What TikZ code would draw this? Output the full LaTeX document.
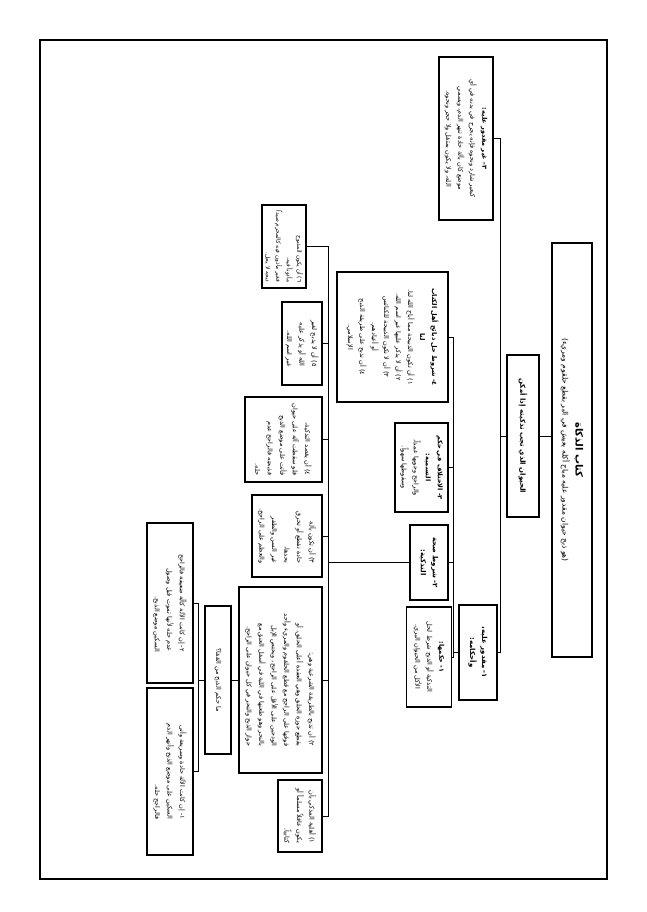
\documentclass[tikz,border=0pt]{standalone}
\usepackage{fontspec}
\usetikzlibrary{positioning}
\newfontfamily\arabicfont[Script=Arabic]{DejaVu Sans}
\TeXXeTstate=1
\newcommand{\ar}[1]{\beginR #1\endR}
\tikzset{
	>=stealth,
	pageframe/.style={draw, line width=1.2pt},
	titlebox/.style={rectangle, draw, line width=1.2pt, rotate=-90, inner sep=1pt, align=center, font=\arabicfont\fontsize{7.5}{13}\selectfont},
	headbox/.style={rectangle, draw, line width=1.2pt, rotate=-90, inner sep=1pt, align=center, font=\arabicfont\bfseries\fontsize{7}{12}\selectfont},
	notebox/.style={rectangle, draw, line width=1.2pt, rotate=-90, inner sep=1pt, align=center, font=\arabicfont\fontsize{6.5}{12}\selectfont},
	leafbox/.style={rectangle, draw, line width=1.2pt, rotate=-90, inner sep=1pt, align=right, font=\arabicfont\fontsize{6.5}{12.5}\selectfont},
	link/.style={draw, line width=1pt}
}

\begin{document}
\begin{tikzpicture}[x=1pt,y=-1pt]
	\useasboundingbox (0,0) rectangle (646,912);

	% --- Frame ---
	\draw[pageframe] (40,40) rectangle (607,879);

	% --- Nodes ---
	\node[titlebox, minimum width=414pt, minimum height=40pt] (book) at (572,450)
		{{\bfseries\fontsize{10}{13}\selectfont\ar{كتاب الذكاة}}\\\ar{(هو ذبح حيوان مقدور عليه مباح أكله يعيش في البر بقطع حلقوم ومريء)}};
	\node[headbox, minimum width=162pt, minimum height=32pt] (animal) at (523,436)
		{\ar{الحيوان الذي تجب تذكيته إذا أمكن}};

	\node[notebox, minimum width=163pt, minimum height=54pt] (wild) at (466,138.5)
		{{\bfseries\ar{٣- غير مقدور عليه:}}\\\ar{كبعير شارد ونحوه فإنه يجرح في بدنه في أي}\\\ar{موضع كان بآلة حادة تنهر الدم، ويسمي}\\\ar{الله، ولا يكون بمثقل ولا حجر ونحوه.}};
	\node[headbox, minimum width=95pt, minimum height=38pt] (tame) at (478,652.5)
		{\ar{١- مقدور عليه،}\\\ar{وأحكامه:}};

	\node[notebox, minimum width=100pt, minimum height=45pt] (ruling) at (429,657)
		{{\bfseries\ar{١- حكمها:}}\\\ar{التذكية أو الذبح شرط لحل}\\\ar{الأكل من الحيوان البري.}};
	\node[headbox, minimum width=75pt, minimum height=38pt] (conds) at (429,562.5)
		{\ar{٢- شروط صحة}\\\ar{التذكية:}};
	\node[notebox, minimum width=89pt, minimum height=53pt] (naming) at (421.5,467.5)
		{{\bfseries\ar{٣- الاختلاف في حكم}}\\{\bfseries\ar{التسمية:}}\\\ar{والراجح وجوبها عمداً،}\\\ar{وسقوطها سهواً.}};
	\node[notebox, minimum width=130pt, minimum height=111pt] (scripture) at (392.5,337)
		{{\bfseries\ar{٤- شروط حل ذبائح أهل الكتاب}}\\{\bfseries\ar{لنا}}\\\ar{١) أن تكون الذبيحة مما أباح الله لنا.}\\\ar{٢) أن لا يذكر عليها غير اسم الله.}\\\ar{٣) أن لا تكون الذبيحة للكنائس}\\\ar{أو أعيادهم.}\\\ar{٤) أن تذبح على طريقة الذبح}\\\ar{الإسلامي.}};

	\node[leafbox, minimum width=83pt, minimum height=44pt, font=\arabicfont\fontsize{5.8}{10.5}\selectfont] (cond6) at (284,246.5)
		{\ar{٦) أن يكون المذبوح}\\\ar{مأذوناً فيه،}\\\ar{فغير مأذون فيه كالمحرم صيداً}\\\ar{ذبحه لا يحل.}};
	\node[leafbox, minimum width=83pt, minimum height=40pt] (cond5) at (302,343.5)
		{\ar{٥) أن لا يذبح لغير}\\\ar{الله أو يذكر عليه}\\\ar{غير اسم الله.}};
	\node[leafbox, minimum width=85pt, minimum height=77pt] (cond4) at (283.5,439.5)
		{\ar{٤) أن يقصد التذكية،}\\\ar{فلو سقطت آلة على حيوان}\\\ar{فأتت على موضع الذبح}\\\ar{فذبحته فالراجح عدم}\\\ar{حله.}};
	\node[leafbox, minimum width=82pt, minimum height=70pt] (cond3) at (287,536)
		{\ar{٣) أن تكون بآلة}\\\ar{حادة تقطع أو تخرق}\\\ar{بحدها،}\\\ar{غير السن والظفر}\\\ar{والعظم على الراجح.}};
	\node[leafbox, minimum width=186pt, minimum height=83pt] (cond2) at (280.5,680)
		{\ar{٢) أن تذبح بالطريقة الشرعية وهي:}\\\ar{بقطع جوزة الحلق وهي العقدة أعلى الحلق، أو}\\\ar{فوقها على الراجح مع قطع الحلقوم والمريء وأحد}\\\ar{الودجين على الأقل على الراجح، ويختص الإبل}\\\ar{بالنحر وهو طعنها في اللبة في أسفل العنق مع}\\\ar{جواز الذبح والنحر في كل حيوان على الراجح.}};
	\node[leafbox, minimum width=72pt, minimum height=44pt] (cond1) at (300,816)
		{\ar{١) أهلية المذكي بأن}\\\ar{يكون عاقلاً مسلماً أو}\\\ar{كتابياً.}};

	\node[notebox, minimum width=148pt, minimum height=26pt] (nape) at (218,680)
		{\ar{ما حكم الذبح من القفا؟}};
	\node[leafbox, minimum width=160pt, minimum height=46pt] (blunt) at (170,603)
		{\ar{٢- إن كانت الآلة كالّة ضعيفة فالراجح}\\\ar{عدم حله لأنها تموت قبل وصول}\\\ar{السكين موضع الذبح.}};
	\node[leafbox, minimum width=167pt, minimum height=46pt] (sharp) at (170,771.5)
		{\ar{١- إن كانت الآلة حادة وسريعة وأتى}\\\ar{السكين على موضع الذبح وأنهر الدم}\\\ar{فالراجح حله.}};

	% --- Buses ---
	\coordinate (bus1) at (500,0);
	\coordinate (bus2) at (453,0);
	\coordinate (bus3) at (328,0);
	\coordinate (bus4) at (198,0);

	% --- Connections ---
	\draw[link] (animal.north) -- (animal.north -| book.south);
	\draw[link] (animal.south) -- (animal.south -| bus1);
	\draw[link] (wild.north) -| (bus1 |- tame.north) -- (tame.north);

	\draw[link] (tame.south) -- (tame.south -| bus2);
	\draw[link] (scripture.north) -| (bus2 |- ruling.north) -- (ruling.north);
	\draw[link] (naming.north) -- (naming.north -| bus2);
	\draw[link] (conds.north) -- (conds.north -| bus2);

	\draw[link] (conds.south) -- (conds.south -| bus3);
	\draw[link] (cond6.north) -| (bus3 |- cond1.north) -- (cond1.north);
	\draw[link] (cond5.north) -- (cond5.north -| bus3);
	\draw[link] (cond4.north) -- (cond4.north -| bus3);
	\draw[link] (cond3.north) -- (cond3.north -| bus3);
	\draw[link] (cond2.north) -- (cond2.north -| bus3);

	\draw[link] (cond2.south) -- (nape.north);
	\draw[link] (nape.south) -- (nape.south -| bus4);
	\draw[link] (blunt.north) -| (bus4 |- sharp.north) -- (sharp.north);
\end{tikzpicture}
\end{document}
